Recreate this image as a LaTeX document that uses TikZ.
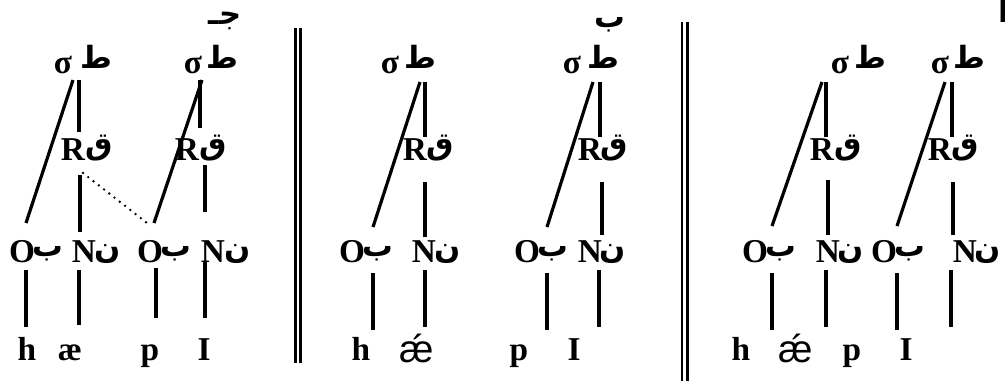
\documentclass[tikz,border=0pt]{standalone}
\usepackage{fontspec}
\setmainfont{Liberation Serif}
\newfontfamily\arabicfont[Script=Arabic]{DejaVu Sans}
\newfontfamily\aesans{Liberation Sans}
\TeXXeTstate=1
\tikzset{
  lat/.style={font=\fontsize{25}{29}\selectfont\bfseries, inner sep=0pt, anchor=base},
  arb/.style={font=\fontsize{23}{27}\selectfont\arabicfont\bfseries, inner sep=0pt, anchor=base},
  aesty/.style={font=\fontsize{29}{33}\selectfont\aesans, inner sep=0pt, anchor=base},
  tie/.style={line width=2.4pt},
  assoc/.style={line width=2pt, line cap=round, dash pattern=on 0pt off 5pt},
  dbar/.style={line width=2.1pt},
}
\begin{document}
\begin{tikzpicture}[x=0.75pt,y=-0.75pt]
\useasboundingbox (0,0) rectangle (1005,380);

% ---------------- panel labels ----------------
\node[arb] (labc) at (225,24) {\beginR جـ\endR};
\node[arb] (labb) at (610,27) {ب};
\node[arb] (laba) at (1004,22) {أ};

% ---------------- separators ----------------
\coordinate (b1ta) at (295.5,28); \coordinate (b1ba) at (295.5,363);
\coordinate (b1tb) at (300.5,28); \coordinate (b1bb) at (300.5,363);
\coordinate (b2ta) at (682,22);  \coordinate (b2ba) at (682,385);
\coordinate (b2tb) at (687.5,22); \coordinate (b2bb) at (687.5,385);
\draw[dbar] (b1ta) -- (b1ba);
\draw[dbar] (b1tb) -- (b1bb);
\draw[dbar] (b2ta) -- (b2ba);
\draw[dbar] (b2tb) -- (b2bb);

% ================= panel c (left) =================
\node[lat] (cs1) at (63,73) {σ};   \node[arb] (cs1a) at (96,68) {ط};
\node[lat] (cs2) at (193,73) {σ};  \node[arb] (cs2a) at (222,68) {ط};
\node[lat] (cr1) at (73,160) {R};  \node[arb] (cr1a) at (99,154) {ق};
\node[lat] (cr2) at (187,160) {R}; \node[arb] (cr2a) at (213,154) {ق};
\node[lat] (co1) at (22,262) {O};  \node[arb] (co1a) at (48,256) {ب};
\node[lat] (cn1) at (84,262) {N};  \node[arb] (cn1a) at (108,258) {ن};
\node[lat] (co2) at (150,262) {O}; \node[arb] (co2a) at (176,256) {ب};
\node[lat] (cn2) at (213,262) {N}; \node[arb] (cn2a) at (238,258) {ن};
\node[lat] (ch) at (27,360) {h};
\node[lat] (cae) at (70,360) {æ};
\node[lat] (cp) at (150,360) {p};
\node[lat] (ci) at (204,360) {I};

\coordinate (c1) at (73,80);   \coordinate (c2) at (26,223);
\coordinate (c3) at (79,80);   \coordinate (c4) at (79,132);
\coordinate (c5) at (80,175);  \coordinate (c6) at (80,232);
\coordinate (c7) at (83,173);  \coordinate (c8) at (147,223);
\coordinate (c9) at (202,80);  \coordinate (c10) at (154,223);
\coordinate (c11) at (200,80); \coordinate (c12) at (200,128);
\coordinate (c13) at (205,165);\coordinate (c14) at (205,212);
\coordinate (c15) at (26,270); \coordinate (c16) at (26,327);
\coordinate (c17) at (79,270); \coordinate (c18) at (79,325);
\coordinate (c19) at (156,268);\coordinate (c20) at (156,318);
\coordinate (c21) at (205,262);\coordinate (c22) at (205,318);
\draw[tie] (c1) -- (c2);  \draw[tie] (c3) -- (c4);
\draw[tie] (c5) -- (c6);  \draw[assoc] (c7) -- (c8);
\draw[tie] (c9) -- (c10); \draw[tie] (c11) -- (c12);
\draw[tie] (c13) -- (c14);
\draw[tie] (c15) -- (c16); \draw[tie] (c17) -- (c18);
\draw[tie] (c19) -- (c20); \draw[tie] (c21) -- (c22);

% ================= panel b (middle) =================
\node[lat] (bs1) at (390,73) {σ};  \node[arb] (bs1a) at (420,68) {ط};
\node[lat] (bs2) at (572,73) {σ};  \node[arb] (bs2a) at (603,68) {ط};
\node[lat] (br1) at (415,160) {R}; \node[arb] (br1a) at (440,154) {ق};
\node[lat] (br2) at (590,160) {R}; \node[arb] (br2a) at (614,154) {ق};
\node[lat] (bo1) at (352,262) {O}; \node[arb] (bo1a) at (378,256) {ب};
\node[lat] (bn1) at (424,262) {N}; \node[arb] (bn1a) at (448,258) {ن};
\node[lat] (bo2) at (527,262) {O}; \node[arb] (bo2a) at (553,256) {ب};
\node[lat] (bn2) at (590,262) {N}; \node[arb] (bn2a) at (613,258) {ن};
\node[lat] (bh) at (361,360) {h};
\node[aesty] (bae) at (417,362) {ǽ};
\node[lat] (bp) at (519,360) {p};
\node[lat] (bi) at (574,360) {I};

\coordinate (m1) at (420,82);  \coordinate (m2) at (373,227);
\coordinate (m3) at (425,82);  \coordinate (m4) at (425,137);
\coordinate (m5) at (425,182); \coordinate (m6) at (425,237);
\coordinate (m7) at (593,82);  \coordinate (m8) at (547,227);
\coordinate (m9) at (600,82);  \coordinate (m10) at (600,137);
\coordinate (m11) at (602,182);\coordinate (m12) at (602,235);
\coordinate (m13) at (373,273);\coordinate (m14) at (373,330);
\coordinate (m15) at (425,270);\coordinate (m16) at (425,327);
\coordinate (m17) at (547,273);\coordinate (m18) at (547,330);
\coordinate (m19) at (599,270);\coordinate (m20) at (599,327);
\draw[tie] (m1) -- (m2);   \draw[tie] (m3) -- (m4);
\draw[tie] (m5) -- (m6);   \draw[tie] (m7) -- (m8);
\draw[tie] (m9) -- (m10);  \draw[tie] (m11) -- (m12);
\draw[tie] (m13) -- (m14); \draw[tie] (m15) -- (m16);
\draw[tie] (m17) -- (m18); \draw[tie] (m19) -- (m20);

% ================= panel a (right) =================
\node[lat] (as1) at (840,73) {σ};  \node[arb] (as1a) at (870,68) {ط};
\node[lat] (as2) at (940,73) {σ};  \node[arb] (as2a) at (969,68) {ط};
\node[lat] (ar1) at (822,160) {R}; \node[arb] (ar1a) at (848,154) {ق};
\node[lat] (ar2) at (940,160) {R}; \node[arb] (ar2a) at (965,154) {ق};
\node[lat] (ao1) at (755,262) {O}; \node[arb] (ao1a) at (781,256) {ب};
\node[lat] (an1) at (828,262) {N}; \node[arb] (an1a) at (851,258) {ن};
\node[lat] (ao2) at (884,262) {O}; \node[arb] (ao2a) at (910,256) {ب};
\node[lat] (an2) at (965,262) {N}; \node[arb] (an2a) at (988,258) {ن};
\node[lat] (ah) at (741,360) {h};
\node[aesty] (aae) at (796,362) {ǽ};
\node[lat] (ap) at (852,360) {p};
\node[lat] (ai) at (906,360) {I};

\coordinate (r1) at (822,82);  \coordinate (r2) at (772,226);
\coordinate (r3) at (826,82);  \coordinate (r4) at (826,137);
\coordinate (r5) at (828,180); \coordinate (r6) at (828,235);
\coordinate (r7) at (945,82);  \coordinate (r8) at (897,226);
\coordinate (r9) at (952,82);  \coordinate (r10) at (952,137);
\coordinate (r11) at (953,182);\coordinate (r12) at (953,235);
\coordinate (r13) at (772,273);\coordinate (r14) at (772,330);
\coordinate (r15) at (826,270);\coordinate (r16) at (826,327);
\coordinate (r17) at (897,273);\coordinate (r18) at (897,330);
\coordinate (r19) at (951,270);\coordinate (r20) at (951,327);
\draw[tie] (r1) -- (r2);   \draw[tie] (r3) -- (r4);
\draw[tie] (r5) -- (r6);   \draw[tie] (r7) -- (r8);
\draw[tie] (r9) -- (r10);  \draw[tie] (r11) -- (r12);
\draw[tie] (r13) -- (r14); \draw[tie] (r15) -- (r16);
\draw[tie] (r17) -- (r18); \draw[tie] (r19) -- (r20);
\end{tikzpicture}
\end{document}
